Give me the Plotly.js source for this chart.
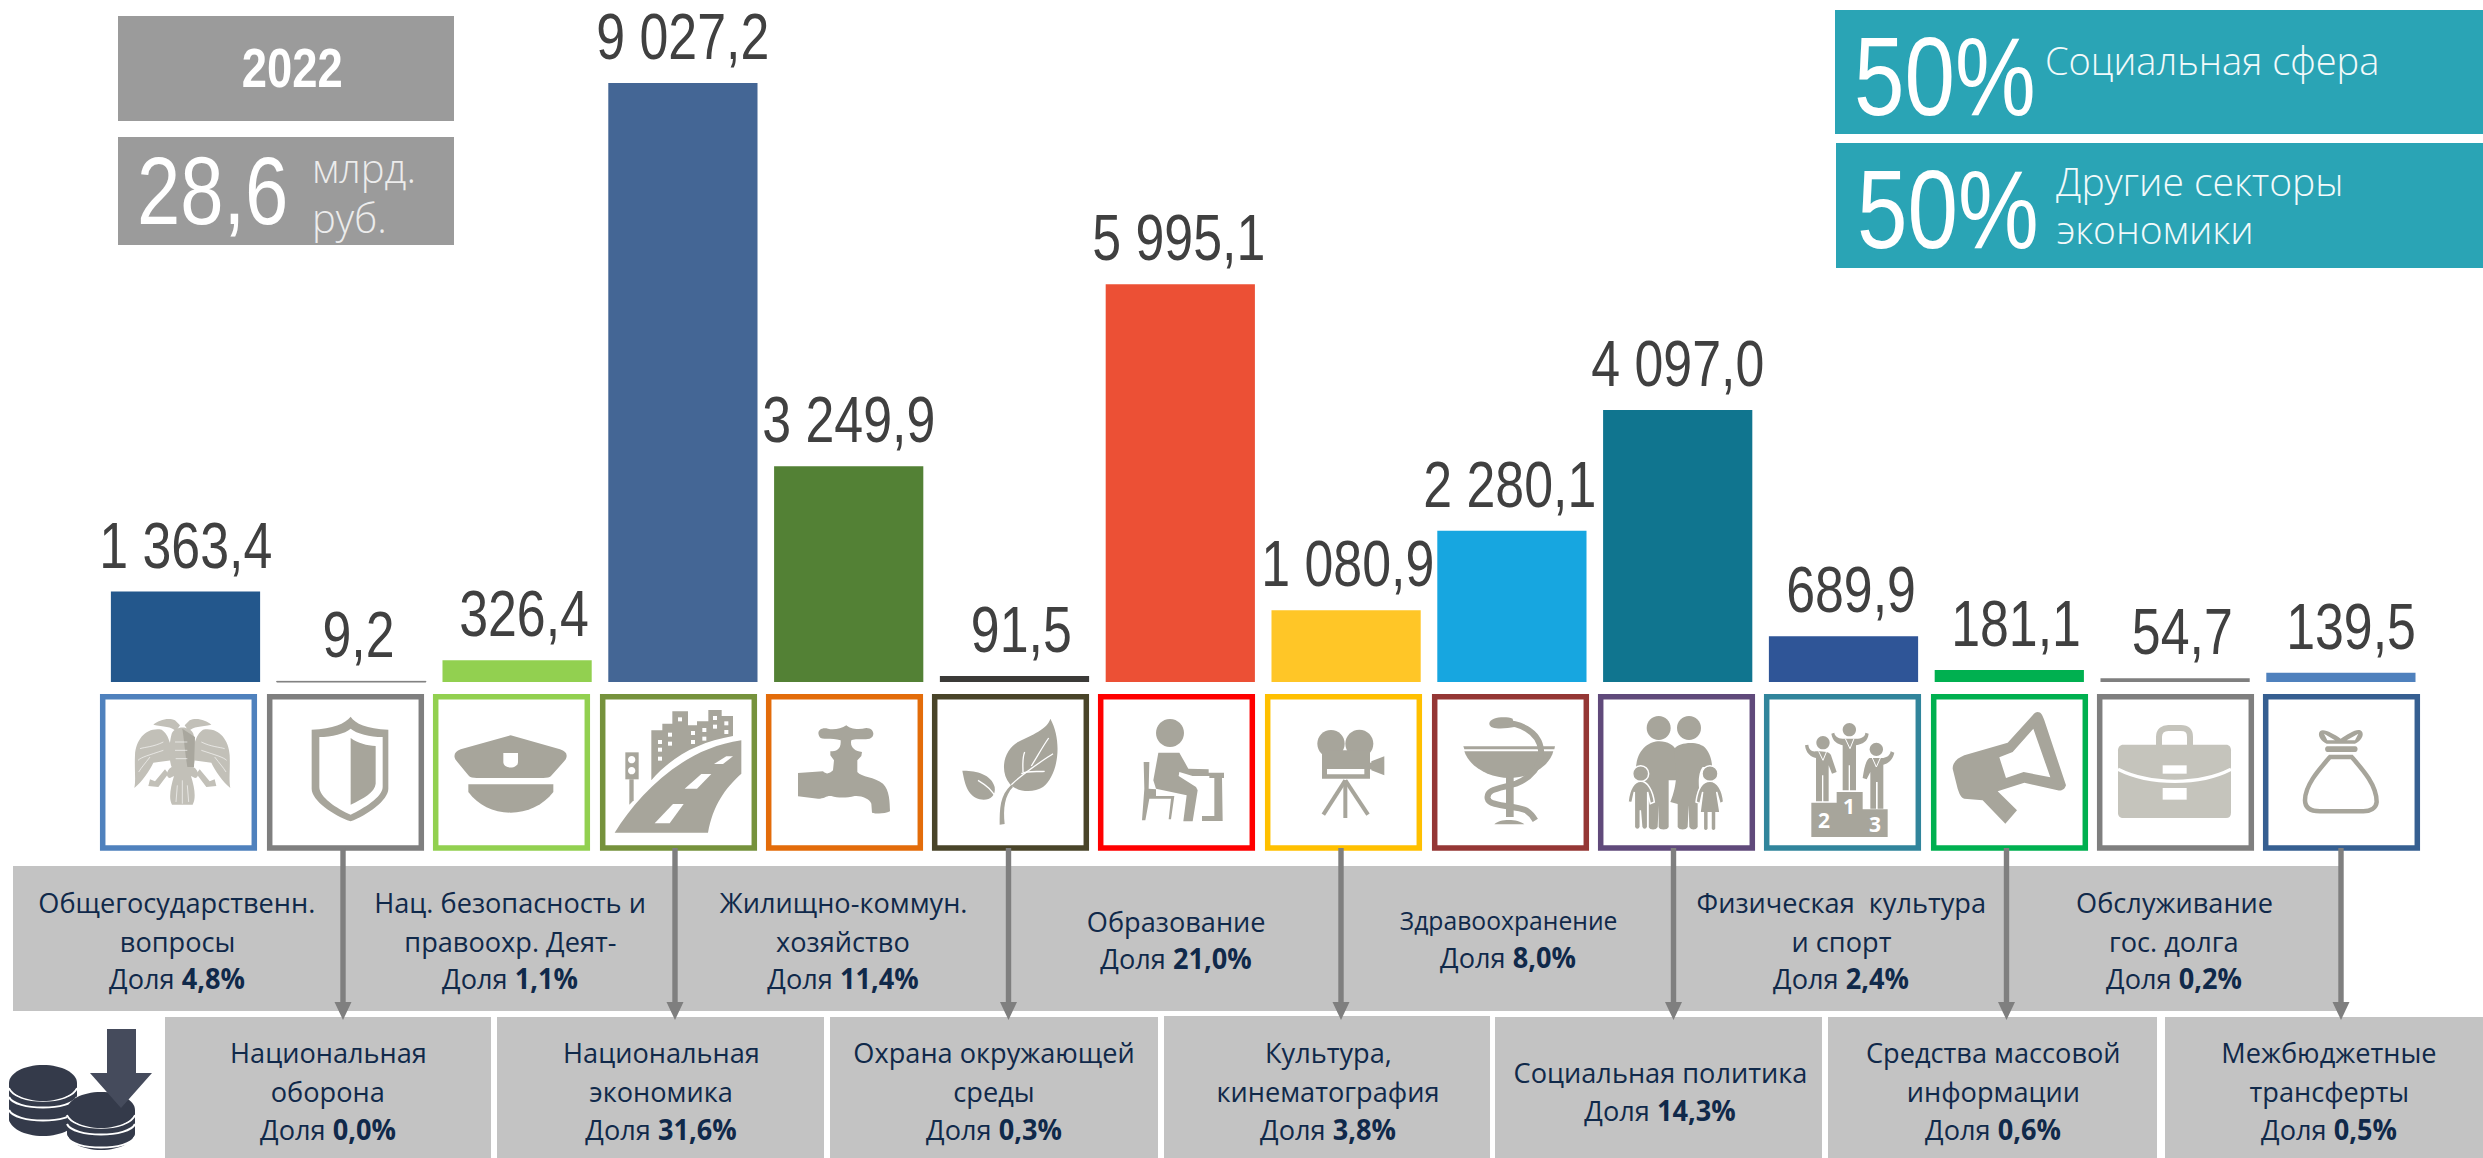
<!DOCTYPE html>
<html><head><meta charset="utf-8">
<script src="https://cdn.plot.ly/plotly-3.0.1.min.js"></script>
<style>html,body{margin:0;padding:0;background:#fff}#c{width:2483px;height:1158px}</style>
</head><body><div id="c"></div>
<script>
// ---------- data ----------
const categories = ["Общегосударственные вопросы","Национальная оборона","Нац. безопасность и правоохр. деят-","Национальная экономика","Жилищно-коммунальное хозяйство","Охрана окружающей среды","Образование","Культура, кинематография","Здравоохранение","Социальная политика","Физическая культура и спорт","Средства массовой информации","Обслуживание гос. долга","Межбюджетные трансферты"];
const values = [1363.4,9.2,326.4,9027.2,3249.9,91.5,5995.1,1080.9,2280.1,4097.0,689.9,181.1,54.7,139.5];
const valueLabels = ["1 363,4","9,2","326,4","9 027,2","3 249,9","91,5","5 995,1","1 080,9","2 280,1","4 097,0","689,9","181,1","54,7","139,5"];
const labelShift = [0,7,7,0,0,7,-1,2,-2,0,7,7,7,10];
const barColors = ["#23578C","#7F7F7F","#92D050","#446695","#538135","#3B3A38","#EC5035","#FFC627","#17A6E0","#10758F","#2F5597","#00B050","#7F7F7F","#4F81BD"];
const frameColors = ["#4F81BD","#7F7F7F","#92D050","#76923C","#E36C0A","#494429","#FF0000","#FFC000","#953735","#604A7B","#31859C","#00B050","#7F7F7F","#365F91"];
const frameLeft = [100,267,433,600,766,932,1098,1265,1432,1598,1764,1931,2097,2263];
const upperCards = [
 {x:177, y:[902,941,978], t:["Общегосударственн.","вопросы"], s:"4,8%"},
 {x:510, y:[902,941,978], t:["Нац. безопасность и","правоохр. Деят-"], s:"1,1%"},
 {x:843, y:[902,941,978], t:["Жилищно-коммун.","хозяйство"], s:"11,4%"},
 {x:1176,y:[921,958], t:["Образование"], s:"21,0%"},
 {x:1508,y:[920,957], t:["Здравоохранение"], s:"8,0%", nameSize:26, nameSx:0.95},
 {x:1841,y:[902,941,978], t:["Физическая\u00A0 культура","и спорт"], s:"2,4%"},
 {x:2174,y:[902,941,978], t:["Обслуживание","гос. долга"], s:"0,2%"}];
const lowerCards = [
 {x:328, y:[1052,1091,1129], t:["Национальная","оборона"], s:"0,0%"},
 {x:661, y:[1052,1091,1129], t:["Национальная","экономика"], s:"31,6%"},
 {x:994, y:[1052,1091,1129], t:["Охрана окружающей","среды"], s:"0,3%"},
 {x:1328,y:[1052,1091,1129], t:["Культура,","кинематография"], s:"3,8%"},
 {x:1660,y:[1072,1110], t:["Социальная политика"], s:"14,3%"},
 {x:1993,y:[1052,1091,1129], t:["Средства массовой","информации"], s:"0,6%"},
 {x:2329,y:[1052,1091,1129], t:["Межбюджетные","трансферты"], s:"0,5%"}];
const lowerBoxes = [[165,491],[497,824],[830,1158],[1164,1490],[1495,1822],[1828,2157],[2165,2483]];
const arrowX = [343,675,1008.5,1341,1673.5,2006.5,2341];

// ---------- page geometry ----------
const W=2483,H=1158, BASE=682, PX_PER_UNIT=0.06636, PITCH=165.8, C0=185.5;
const X=p=>p/W, Y=p=>1-p/H;
const GREY="#A7A59B", LIGHT="#C5C4BC", SANS="'Liberation Sans',Arial,sans-serif", OPEN="'Open Sans',sans-serif";
const NARROW=0.81, CARD=0.97;

const shapes=[], ann=[], squeeze=[];
function rect(x0,y0,x1,y1,fill,line,lw){shapes.push({type:"rect",xref:"paper",yref:"paper",x0:X(x0),x1:X(x1),y0:Y(y1),y1:Y(y0),fillcolor:fill||"rgba(0,0,0,0)",line:{color:line||"rgba(0,0,0,0)",width:lw||0}});}
function conv(d,ox,oy,s){return d.replace(/(-?[\d.]+)[ ,](-?[\d.]+)/g,(m,a,b)=>X(ox+a*s).toFixed(6)+","+Y(oy+b*s).toFixed(6));}
function fillP(d,ox,oy,s,c){shapes.push({type:"path",xref:"paper",yref:"paper",path:conv(d,ox,oy,s),fillcolor:c,line:{width:0,color:"rgba(0,0,0,0)"}});}
function strokeP(d,ox,oy,s,c,w){shapes.push({type:"path",xref:"paper",yref:"paper",path:conv(d,ox,oy,s),fillcolor:"rgba(0,0,0,0)",line:{width:w,color:c}});}
function outlineP(d,ox,oy,s,c){shapes.push({type:"path",xref:"paper",yref:"paper",path:conv(d,ox,oy,s),fillcolor:c,line:{color:"#fff",width:1.5}});}
function ell(cx,cy,rx,ry){ry=ry||rx;const k=.5523;return `M ${cx-rx},${cy} C ${cx-rx},${cy-ry*k} ${cx-rx*k},${cy-ry} ${cx},${cy-ry} C ${cx+rx*k},${cy-ry} ${cx+rx},${cy-ry*k} ${cx+rx},${cy} C ${cx+rx},${cy+ry*k} ${cx+rx*k},${cy+ry} ${cx},${cy+ry} C ${cx-rx*k},${cy+ry} ${cx-rx},${cy+ry*k} ${cx-rx},${cy} Z`;}
function box(a,b,c,d){return `M ${a},${b} L ${c},${b} L ${c},${d} L ${a},${d} Z`;}
function txt(x,y,text,size,font,color,anchor,opts){opts=opts||{};squeeze.push(opts.sx||1);ann.push({xref:"paper",yref:"paper",x:X(x),y:Y(y),text:text,showarrow:false,xanchor:anchor||"center",yanchor:"middle",font:{family:font,size:size,color:color,weight:opts.weight||400},borderpad:0});}

// header boxes
rect(118,16,454,121,"#9B9B9B");
rect(118,137,454,245,"#9B9B9B");
rect(1835,10,2483,134,"#2AA4B5");
rect(1836,143,2483,268,"#2AA4B5");
txt(292,68,"<b>2022</b>",56,SANS,"#fff","center",{sx:NARROW});
txt(136,190,"28,6",96,SANS,"#fff","left",{sx:NARROW});
txt(311,168,"млрд.",40,OPEN,"#ECECEC","left",{weight:300});
txt(311,218,"руб.",40,OPEN,"#ECECEC","left",{weight:300});
txt(1853,76,"50%",112,SANS,"#fff","left",{sx:NARROW});
txt(1856,209,"50%",112,SANS,"#fff","left",{sx:NARROW});
txt(2044,60,"Социальная сфера",38,OPEN,"#F2FAFB","left",{weight:300});
txt(2055,180,"Другие секторы",39,OPEN,"#F2FAFB","left",{weight:300});
txt(2055,228,"экономики",39,OPEN,"#F2FAFB","left",{weight:300});

// frames
frameLeft.forEach((x,i)=>{rect(x+2.7,696.7,x+157-2.7,848,"#fff",frameColors[i],5.5);});

// grey cards
rect(13,866,2341,1011,"#C3C3C3");
lowerBoxes.forEach((b,i)=>rect(b[0],i==3?1016:1017,b[1],1158,"#C3C3C3"));
const NAVY="#10294A";
[...upperCards,...lowerCards].forEach(c=>{
  c.t.forEach((line,j)=>txt(c.x,c.y[j],line,c.nameSize||28,OPEN,NAVY,"center",{sx:c.nameSx||CARD}));
  txt(c.x,c.y[c.t.length],"Доля <b>"+c.s+"</b>",28,OPEN,NAVY,"center",{sx:CARD});
});

// arrows
arrowX.forEach(x=>{
  rect(x-2.7,848,x+2.7,1005,"#7F7F7F");
  fillP(`M ${x-8.5},1002 L ${x+8.5},1002 L ${x},1020 Z`,0,0,1,"#7F7F7F");
});

// ---------- icons (3x crop coordinates) ----------
// eagle
(function(){const o=[100,692,1/3],E="#C2C0B8",m=247;
 const mir=d=>d.replace(/(-?[\d.]+)[ ,](-?[\d.]+)/g,(s,a,b)=>(2*m-a)+","+b);
 const parts=["M 160,98 C 175,85 205,75 225,85 L 240,100 L 228,118 C 215,102 190,105 160,98 Z",
 "M 226,170 C 205,165 212,130 185,113 C 140,105 108,140 105,190 C 103,230 108,265 103,288 C 125,270 150,235 160,212 C 180,210 205,205 226,205 Z",
 "M 205,245 L 175,285 L 145,282 L 150,262 L 165,268 L 195,232 Z"];
 parts.forEach(d=>{fillP(d,...o,E);fillP(mir(d),...o,E);});
 fillP("M 215,125 C 225,100 270,100 280,125 C 290,160 285,210 280,225 C 298,235 298,258 285,258 L 273,252 C 285,290 288,320 278,338 L 216,338 C 205,320 212,285 222,252 L 210,258 C 197,258 197,235 215,225 C 208,210 205,160 215,125 Z",...o,E);
 fillP("M 247,110 L 285,135 L 282,225 L 262,225 C 255,180 252,140 247,110 Z",...o,"#A9A79E");
 ["M 120,170 C 135,165 160,165 190,150","M 114,205 C 125,195 145,190 190,175","M 116,240 C 125,225 135,215 150,195"].forEach(d=>{strokeP(d,...o,"#fff",.6);strokeP(mir(d),...o,"#fff",.6);});
 ["M 225,150 L 262,150","M 225,175 L 262,175","M 227,200 L 262,200","M 232,280 L 228,330","M 247,265 L 247,335","M 262,280 L 266,330"].forEach(d=>strokeP(d,...o,"#fff",.6));
})();
// shield, cap
(function(){const o=[100,692,1/3];
 fillP("M 752,74 C 765,95 800,110 865,113 L 865,290 C 865,325 800,370 752,388 C 700,370 635,325 635,290 L 635,113 C 700,110 735,95 752,74 Z",...o,GREY);
 fillP("M 752,110 C 770,125 810,135 848,135 L 848,285 C 848,315 790,350 752,368 C 710,350 658,315 658,285 L 658,135 C 695,135 735,125 752,110 Z",...o,"#fff");
 fillP("M 752,138 C 775,155 800,160 827,162 L 827,275 C 825,300 790,320 752,338 Z",...o,GREY);
 fillP("M 1232,130 L 1380,172 C 1400,178 1405,190 1395,205 L 1355,250 C 1350,257 1340,258 1330,258 L 1130,258 C 1120,258 1110,257 1105,250 L 1068,205 C 1058,190 1065,178 1082,172 Z",...o,GREY);
 fillP("M 1210,183 L 1254,183 L 1254,210 C 1254,232 1210,232 1210,210 Z",...o,"#fff");
 fillP("M 1105,277 L 1360,277 L 1360,300 C 1330,340 1280,362 1232,362 C 1180,362 1135,340 1105,300 Z",...o,GREY);
})();
// road, faucet, leaf
(function(){const o=[598,692,1/3];
 fillP("M 160,265 L 160,115 L 193,115 L 193,95 L 223,95 L 223,58 L 270,58 L 270,100 L 297,100 L 297,88 L 331,88 L 331,54 L 371,54 L 371,72 L 405,72 L 405,132 C 300,150 220,195 160,265 Z",...o,GREY);
 [[186,150],[216,128],[216,155],[186,173],[186,200],[246,82],[285,123],[319,114],[285,150],[319,140],[351,78],[351,104],[385,94],[385,120]].forEach(p=>fillP(box(p[0]-6,p[1]-6,p[0]+6,p[1]+6),...o,"#fff"));
 fillP("M 50,422 C 120,310 250,170 430,145 L 430,245 C 380,290 345,340 330,422 Z",...o,GREY);
 ["M 170,394 L 225,336 L 257,336 L 215,394 Z","M 260,290 L 310,246 L 340,246 L 297,290 Z","M 348,216 L 385,193 L 405,193 L 375,216 Z"].forEach(d=>fillP(d,...o,"#fff"));
 fillP("M 94,262 L 107,262 L 107,325 L 94,338 Z",...o,GREY);
 fillP(box(82,181,122,262),...o,GREY);
 fillP(ell(101,203,11),...o,"#fff");fillP(ell(101,236,11),...o,"#fff");
 fillP("M 600,243 L 675,238 C 685,248 695,245 705,235 L 708,205 L 697,190 L 697,178 C 715,178 730,172 728,145 C 700,135 670,145 665,135 C 655,120 665,105 690,110 C 705,115 730,110 745,100 C 755,110 780,115 805,108 C 830,108 832,135 815,140 C 790,145 775,138 760,145 C 755,165 770,178 792,180 L 790,192 L 778,205 L 778,240 C 790,255 830,255 855,275 C 875,295 875,330 876,358 C 860,366 835,366 822,362 L 820,335 C 815,320 790,310 770,312 C 745,318 720,318 700,312 C 685,310 680,320 660,320 L 600,313 Z",...o,GREY);
 fillP("M 1357,80 C 1350,110 1300,130 1260,150 C 1215,175 1205,240 1235,275 C 1255,300 1305,305 1335,285 C 1380,250 1395,150 1357,80 Z",...o,GREY);
 fillP("M 1093,236 C 1100,270 1105,310 1145,322 C 1170,328 1195,315 1190,285 C 1180,245 1130,235 1093,236 Z",...o,GREY);
 fillP("M 1205,398 C 1205,350 1205,310 1240,278 L 1245,285 C 1220,310 1215,350 1220,396 Z",...o,GREY);
 ["M 1240,278 C 1280,240 1320,215 1365,185","M 1275,240 C 1275,220 1272,200 1280,180","M 1300,222 C 1320,190 1330,170 1352,138","M 1270,245 C 1290,235 1320,240 1340,238","M 1140,265 C 1165,280 1185,295 1198,325"].forEach(d=>strokeP(d,...o,"#fff",1.3));
})();
// student, camera, rod
(function(){const o=[1096,692,1/3];
 fillP(ell(222,123,42),...o,GREY);
 fillP("M 187,182 L 250,182 L 277,230 L 338,232 L 338,250 L 290,252 L 250,240 L 248,252 L 300,285 L 305,295 L 290,388 L 262,388 L 272,310 L 180,290 L 172,265 Z",...o,GREY);
 fillP("M 143,210 L 160,210 L 158,290 L 180,292 L 180,312 L 235,312 L 225,382 L 218,382 L 225,320 L 160,320 L 148,385 L 138,385 L 145,290 Z",...o,GREY);
 fillP("M 290,242 L 384,242 L 384,258 L 378,258 L 380,387 L 318,387 L 318,372 L 355,372 L 355,258 L 340,258 L 340,252 L 290,252 Z",...o,GREY);
 fillP(ell(705,155,41),...o,GREY);fillP(ell(790,155,42),...o,GREY);
 fillP(box(678,175,822,260),...o,GREY);fillP(box(693,231,805,247),...o,"#fff");
 fillP("M 826,208 L 865,193 L 865,250 L 826,235 Z",...o,GREY);fillP(box(820,212,828,232),...o,GREY);
 ["M 748,265 L 682,368","M 748,265 L 748,378","M 748,265 L 816,368"].forEach(d=>strokeP(d,...o,GREY,4));
 fillP("M 1105,178 C 1120,225 1180,258 1240,258 C 1300,258 1360,225 1372,178 Z",...o,GREY);
 fillP("M 1102,163 L 1377,163 L 1375,172 L 1105,172 Z",...o,GREY);
 strokeP("M 1200,95 C 1270,85 1330,120 1335,175 C 1340,220 1300,260 1260,275 C 1210,290 1170,290 1175,320 C 1180,345 1260,340 1290,355 C 1305,365 1312,375 1318,385",...o,GREY,6);
 fillP("M 1180,95 C 1180,75 1230,72 1250,80 L 1255,105 C 1230,110 1180,115 1180,95 Z",...o,GREY);
 fillP(box(1230,243,1253,375),...o,GREY);
 fillP("M 1195,397 C 1210,380 1265,380 1285,397 Z",...o,GREY);
})();
// family, podium, megaphone
(function(){const o=[1596,692,1/3];
 fillP(ell(188,108,36),...o,GREY);fillP(ell(279,108,36),...o,GREY);
 fillP("M 120,225 C 125,170 160,148 190,148 C 215,148 235,160 240,175 L 240,265 L 218,265 L 218,405 C 215,415 190,415 188,405 L 188,340 L 185,405 C 180,415 162,415 158,405 L 158,320 L 120,225 Z",...o,GREY);
 fillP("M 235,170 C 250,150 310,145 330,170 C 345,190 348,210 348,225 L 320,225 C 300,250 310,310 318,336 L 305,336 L 305,405 C 300,415 285,415 280,405 L 278,340 L 275,405 C 270,415 250,415 245,405 L 245,336 L 223,330 C 235,300 238,280 240,260 Z",...o,GREY);
 outlineP(ell(134,245,24),...o,GREY);
 outlineP(ell(342,245,24),...o,GREY);
 outlineP("M 134,268 C 115,268 100,290 96,330 L 108,332 L 115,300 L 115,405 C 118,415 130,415 133,405 L 133,355 L 137,405 C 140,415 152,415 155,405 L 155,300 L 163,335 L 175,330 C 170,295 155,268 134,268 Z",...o,GREY);
 outlineP("M 342,268 C 320,268 305,290 300,330 L 312,335 L 320,300 L 312,362 L 322,362 L 322,410 C 325,418 335,418 337,410 L 337,362 L 345,362 L 345,410 C 348,418 358,418 360,410 L 360,362 L 372,362 L 362,300 L 372,335 L 383,330 C 380,295 365,268 342,268 Z",...o,GREY);
 fillP("M 646,332 L 722,332 L 722,300 L 800,300 L 800,352 L 875,352 L 875,435 L 646,435 Z",...o,GREY);
 fillP(ell(760,113,20),...o,GREY);fillP(ell(681,152,20),...o,GREY);fillP(ell(841,172,20),...o,GREY);
 fillP("M 740,140 C 725,140 715,130 715,122 L 706,125 C 710,150 725,155 740,160 L 740,295 L 758,295 L 758,220 L 762,220 L 762,295 L 780,295 L 780,160 C 800,155 815,150 818,125 L 808,122 C 808,135 795,140 780,140 Z",...o,GREY);
 fillP("M 660,178 C 645,180 638,170 637,158 L 627,160 C 630,185 645,195 660,198 L 660,328 L 678,328 L 678,250 L 682,250 L 682,328 L 698,328 L 698,220 L 708,245 L 722,240 L 705,190 C 700,180 690,178 660,178 Z",...o,GREY);
 fillP("M 820,198 C 835,198 855,198 862,198 C 875,195 882,190 884,178 L 895,182 C 890,205 875,215 862,218 L 862,350 L 845,350 L 845,270 L 840,270 L 840,350 L 823,350 L 823,240 L 812,262 L 800,258 C 805,225 810,205 820,198 Z",...o,GREY);
 ["M 748,140 L 762,170 L 774,140","M 668,178 L 681,205 L 692,178","M 829,198 L 841,225 L 853,198"].forEach(d=>strokeP(d,...o,"#fff",1));
 const num=(s,x,y)=>txt(1596+x/3,692+y/3,"<b>"+s+"</b>",21,OPEN,"#fff");
 num("1",758,343);num("2",684,384);num("3",838,396);
 fillP("M 1325,60 C 1335,60 1340,70 1345,85 L 1410,280 C 1405,295 1395,297 1385,295 L 1285,272 L 1205,298 L 1263,355 L 1228,395 L 1160,325 L 1105,320 C 1095,318 1090,305 1085,290 L 1070,230 C 1070,210 1085,198 1105,190 L 1235,152 L 1310,70 C 1315,62 1320,60 1325,60 Z",...o,GREY);
 fillP("M 1312,110 L 1363,256 L 1283,240 L 1230,258 L 1210,196 L 1250,180 Z",...o,"#fff");
})();
// briefcase, money bag
(function(){const o=[2090,692,1/3];
 strokeP("M 207,160 L 207,135 C 207,115 220,108 235,108 L 272,108 C 290,108 300,115 300,135 L 300,160",...o,LIGHT,6);
 fillP("M 100,158 L 408,158 C 418,158 423,165 423,175 L 423,362 C 423,372 418,378 408,378 L 100,378 C 90,378 84,372 84,362 L 84,175 C 84,165 90,158 100,158 Z",...o,LIGHT);
 strokeP("M 84,232 C 180,280 330,280 423,232",...o,"#fff",3.3);
 fillP(box(218,220,290,245),...o,"#fff");fillP(box(218,288,290,323),...o,"#fff");
 strokeP("M 720,195 L 785,195 C 820,235 860,280 860,330 C 858,350 840,358 820,358 L 690,358 C 665,358 645,350 645,325 C 645,280 685,235 720,195 Z",...o,GREY,4.5);
 fillP("M 712,163 L 796,163 C 805,163 805,180 796,180 L 712,180 C 703,180 703,163 712,163 Z",...o,GREY);
 fillP("M 752,140 C 730,125 700,108 690,118 C 680,130 695,150 710,155 L 795,155 C 810,150 825,130 815,118 C 805,105 775,125 752,140 Z",...o,GREY);
 fillP("M 702,125 L 735,145 L 712,145 Z",...o,"#fff");fillP("M 805,125 L 770,145 L 795,145 Z",...o,"#fff");
})();
// coins + down arrow
(function(){const o=[0,0,1],C="#343A4A",A="#454B5C";
 function stack(cx,top,bot){const rx=34,ry=18;
  fillP(`M ${cx-rx},${top+ry} L ${cx+rx},${top+ry} L ${cx+rx},${bot-ry} C ${cx+rx},${bot-3} ${cx-rx},${bot-3} ${cx-rx},${bot-ry} Z`,...o,C);
  fillP(ell(cx,bot-ry-1,rx,ry),...o,C);
  [ry+20,ry+33].forEach(d=>strokeP(`M ${cx-rx},${top+d-6} C ${cx-rx+6},${top+d+8} ${cx+rx-6},${top+d+8} ${cx+rx},${top+d-6}`,...o,"#fff",2));
  strokeP(`M ${cx-rx},${top+ry+5} C ${cx-rx+6},${top+ry+22} ${cx+rx-6},${top+ry+22} ${cx+rx},${top+ry+5}`,...o,"#fff",2);
  fillP(ell(cx,top+ry,rx,ry),...o,C);
 }
 stack(43,1065,1137);stack(101,1092,1151);
 fillP("M 107,1029 L 136,1029 L 136,1073 L 152,1073 L 121,1108 L 90,1073 L 107,1073 Z",...o,A);
})();

// value labels sit on the bars through the data axes
values.forEach((v,i)=>{squeeze.push(NARROW);ann.push({xref:"x",yref:"y",x:categories[i],y:v,text:valueLabels[i],showarrow:false,xanchor:"center",yanchor:"bottom",xshift:labelShift[i],yshift:8,font:{family:SANS,size:64,color:"#404040"}});});

const trace={type:"bar",x:categories,y:values,marker:{color:barColors,line:{color:barColors,width:values.map(v=>v<20?1:0)}},hoverinfo:"x+y",cliponaxis:false};
const layout={width:W,height:H,margin:{l:0,r:0,t:0,b:0,pad:0},paper_bgcolor:"#fff",plot_bgcolor:"#fff",showlegend:false,bargap:0.1,
 xaxis:{type:"category",categoryorder:"array",categoryarray:categories,range:[-C0/PITCH,(W-C0)/PITCH],visible:false,fixedrange:true},
 yaxis:{range:[-(H-BASE)/PX_PER_UNIT,BASE/PX_PER_UNIT],visible:false,fixedrange:true},
 shapes:shapes,annotations:ann};
Plotly.newPlot("c",[trace],layout,{displayModeBar:false,responsive:false}).then(gd=>{
 // no condensed face is installed, so the narrow captions are condensed in place
 gd.querySelectorAll(".annotation").forEach(g=>{
  const i=+g.getAttribute("data-index"), sx=squeeze[i], t=g.querySelector("text");
  if(!t||sx===1) return;
  const b=t.getBBox(), cx=ann[i].xanchor==="left"?b.x:b.x+b.width/2;
  t.setAttribute("transform",`translate(${cx} 0) scale(${sx} 1) translate(${-cx} 0)`);
 });
});
</script></body></html>
